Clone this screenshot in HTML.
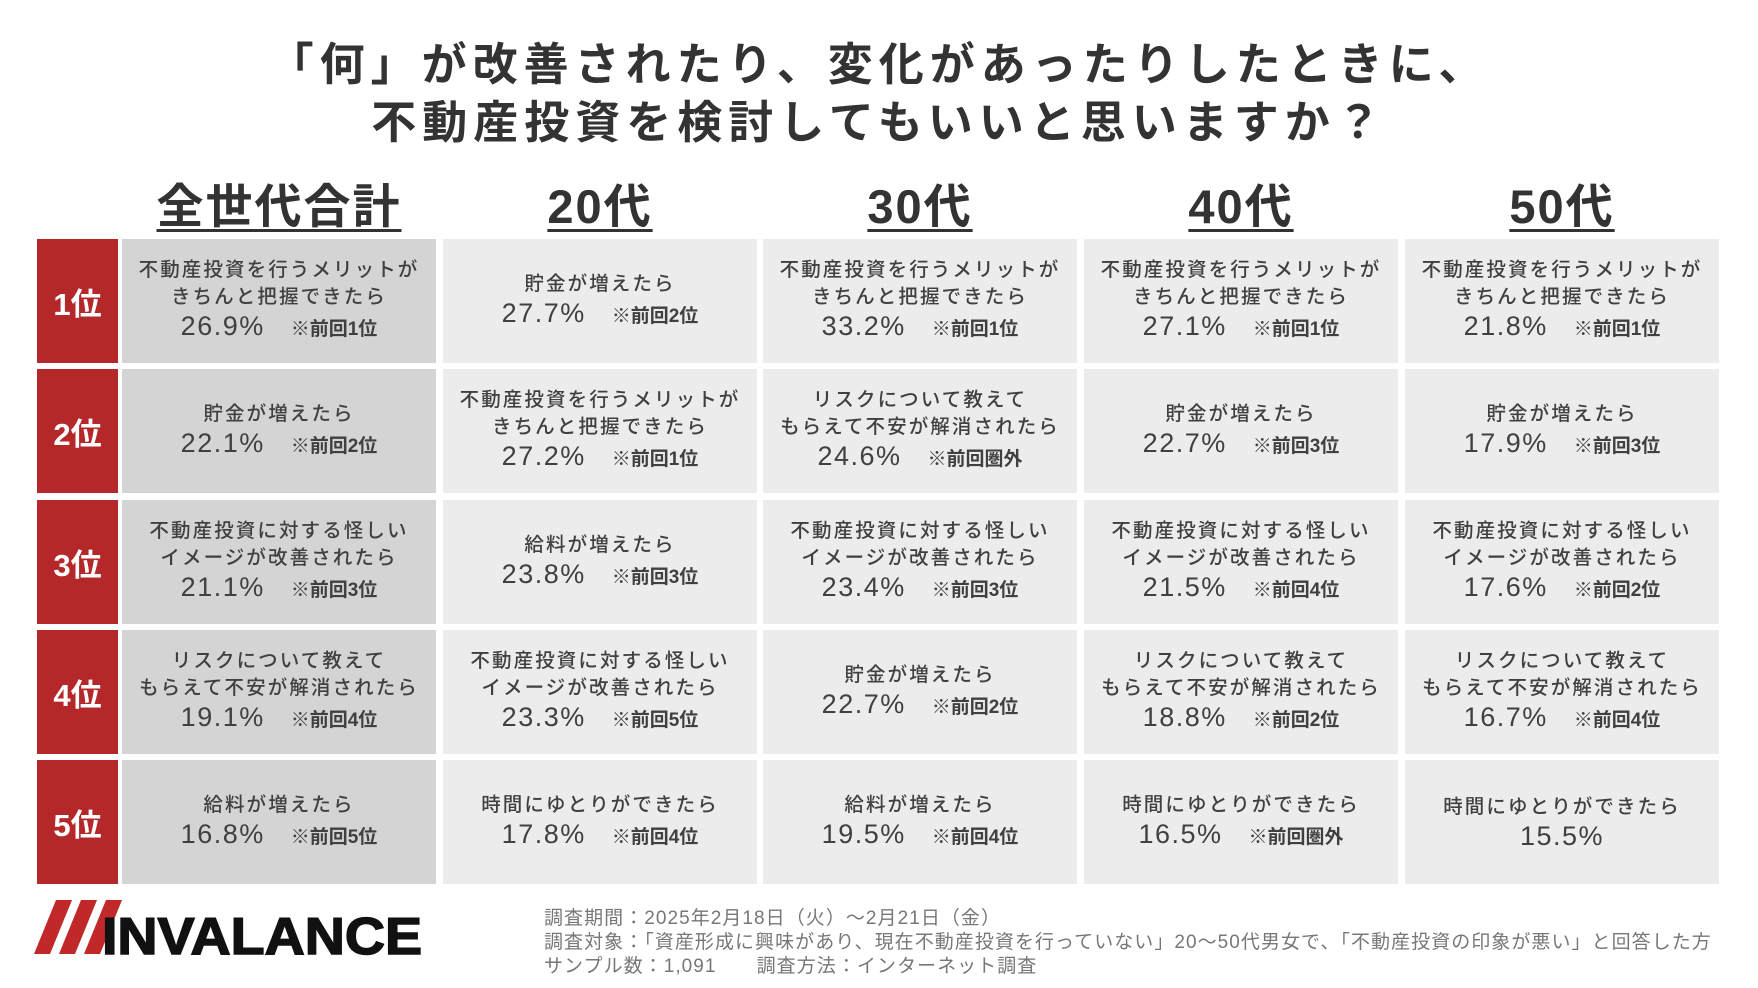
<!DOCTYPE html>
<html><head><meta charset="utf-8">
<style>
*{margin:0;padding:0;box-sizing:border-box}
body{width:1758px;height:988px;background:#fff;position:relative;overflow:hidden;font-family:"Liberation Sans","Noto Sans CJK JP",sans-serif;color:#404040}
.title{position:absolute;left:0;width:1758px;text-align:center;font-size:45px;font-weight:bold;color:#333;letter-spacing:6px}
.hd{position:absolute;top:168px;width:314px;text-align:center;font-size:47px;font-weight:bold;color:#333;text-decoration:underline;text-underline-offset:6px;text-decoration-thickness:3px;letter-spacing:2px}
.rk{position:absolute;left:37px;width:81px;height:124px;background:#b5282a;color:#fff;font-size:31px;font-weight:bold;display:flex;align-items:center;justify-content:center}
.c{position:absolute;width:314px;height:124px;background:#ececec;display:flex;flex-direction:column;align-items:center;justify-content:center;text-align:center;font-size:19.5px;line-height:27px;letter-spacing:2.1px;font-weight:500}
.c.a{background:#d4d4d4}
.p{font-size:27px;line-height:30px;letter-spacing:1.5px;font-weight:500}
.p span{font-size:19px;font-weight:bold;margin-left:26px;letter-spacing:0}
.foot{position:absolute;left:544px;font-size:19px;color:#777;line-height:24px;letter-spacing:1.05px}
</style></head><body>
<div class="title" style="top:28px">「何」が改善されたり、変化があったりしたときに、</div>
<div class="title" style="top:86px">不動産投資を検討してもいいと思いますか？</div>

<div class="hd" style="left:122px">全世代合計</div>
<div class="hd" style="left:443px">20代</div>
<div class="hd" style="left:763px">30代</div>
<div class="hd" style="left:1084px">40代</div>
<div class="hd" style="left:1405px">50代</div>

<div class="rk" style="top:239px">1位</div>
<div class="rk" style="top:369px">2位</div>
<div class="rk" style="top:500px">3位</div>
<div class="rk" style="top:630px">4位</div>
<div class="rk" style="top:760px">5位</div>

<div class="c a" style="left:122px;top:239px"><div>不動産投資を行うメリットが</div><div>きちんと把握できたら</div><div class="p">26.9%<span>※前回1位</span></div></div>
<div class="c" style="left:443px;top:239px"><div>貯金が増えたら</div><div class="p">27.7%<span>※前回2位</span></div></div>
<div class="c" style="left:763px;top:239px"><div>不動産投資を行うメリットが</div><div>きちんと把握できたら</div><div class="p">33.2%<span>※前回1位</span></div></div>
<div class="c" style="left:1084px;top:239px"><div>不動産投資を行うメリットが</div><div>きちんと把握できたら</div><div class="p">27.1%<span>※前回1位</span></div></div>
<div class="c" style="left:1405px;top:239px"><div>不動産投資を行うメリットが</div><div>きちんと把握できたら</div><div class="p">21.8%<span>※前回1位</span></div></div>

<div class="c a" style="left:122px;top:369px"><div>貯金が増えたら</div><div class="p">22.1%<span>※前回2位</span></div></div>
<div class="c" style="left:443px;top:369px"><div>不動産投資を行うメリットが</div><div>きちんと把握できたら</div><div class="p">27.2%<span>※前回1位</span></div></div>
<div class="c" style="left:763px;top:369px"><div>リスクについて教えて</div><div>もらえて不安が解消されたら</div><div class="p">24.6%<span>※前回圏外</span></div></div>
<div class="c" style="left:1084px;top:369px"><div>貯金が増えたら</div><div class="p">22.7%<span>※前回3位</span></div></div>
<div class="c" style="left:1405px;top:369px"><div>貯金が増えたら</div><div class="p">17.9%<span>※前回3位</span></div></div>

<div class="c a" style="left:122px;top:500px"><div>不動産投資に対する怪しい</div><div>イメージが改善されたら</div><div class="p">21.1%<span>※前回3位</span></div></div>
<div class="c" style="left:443px;top:500px"><div>給料が増えたら</div><div class="p">23.8%<span>※前回3位</span></div></div>
<div class="c" style="left:763px;top:500px"><div>不動産投資に対する怪しい</div><div>イメージが改善されたら</div><div class="p">23.4%<span>※前回3位</span></div></div>
<div class="c" style="left:1084px;top:500px"><div>不動産投資に対する怪しい</div><div>イメージが改善されたら</div><div class="p">21.5%<span>※前回4位</span></div></div>
<div class="c" style="left:1405px;top:500px"><div>不動産投資に対する怪しい</div><div>イメージが改善されたら</div><div class="p">17.6%<span>※前回2位</span></div></div>

<div class="c a" style="left:122px;top:630px"><div>リスクについて教えて</div><div>もらえて不安が解消されたら</div><div class="p">19.1%<span>※前回4位</span></div></div>
<div class="c" style="left:443px;top:630px"><div>不動産投資に対する怪しい</div><div>イメージが改善されたら</div><div class="p">23.3%<span>※前回5位</span></div></div>
<div class="c" style="left:763px;top:630px"><div>貯金が増えたら</div><div class="p">22.7%<span>※前回2位</span></div></div>
<div class="c" style="left:1084px;top:630px"><div>リスクについて教えて</div><div>もらえて不安が解消されたら</div><div class="p">18.8%<span>※前回2位</span></div></div>
<div class="c" style="left:1405px;top:630px"><div>リスクについて教えて</div><div>もらえて不安が解消されたら</div><div class="p">16.7%<span>※前回4位</span></div></div>

<div class="c a" style="left:122px;top:760px"><div>給料が増えたら</div><div class="p">16.8%<span>※前回5位</span></div></div>
<div class="c" style="left:443px;top:760px"><div>時間にゆとりができたら</div><div class="p">17.8%<span>※前回4位</span></div></div>
<div class="c" style="left:763px;top:760px"><div>給料が増えたら</div><div class="p">19.5%<span>※前回4位</span></div></div>
<div class="c" style="left:1084px;top:760px"><div>時間にゆとりができたら</div><div class="p">16.5%<span>※前回圏外</span></div></div>
<div class="c" style="left:1405px;top:760px"><div>時間にゆとりができたら</div><div class="p">15.5%</div></div>

<svg style="position:absolute;left:34px;top:898px" width="400" height="60">
<polygon points="22,2 38,2 16,56 0,56" fill="#c0282a"/>
<polygon points="47,2 63,2 41,56 25,56" fill="#c0282a"/>
<polygon points="72,2 88,2 66,56 50,56" fill="#c0282a"/>
<text x="68" y="56" font-family="Liberation Sans, sans-serif" font-weight="bold" font-size="52" fill="#111" stroke="#111" stroke-width="1.5" textLength="320" lengthAdjust="spacingAndGlyphs">INVALANCE</text>
</svg>

<div class="foot" style="top:907px">調査期間：2025年2月18日（火）～2月21日（金）</div>
<div class="foot" style="top:931px">調査対象：「資産形成に興味があり、現在不動産投資を行っていない」20～50代男女で、「不動産投資の印象が悪い」と回答した方</div>
<div class="foot" style="top:955px">サンプル数：1,091　　調査方法：インターネット調査</div>
</body></html>
